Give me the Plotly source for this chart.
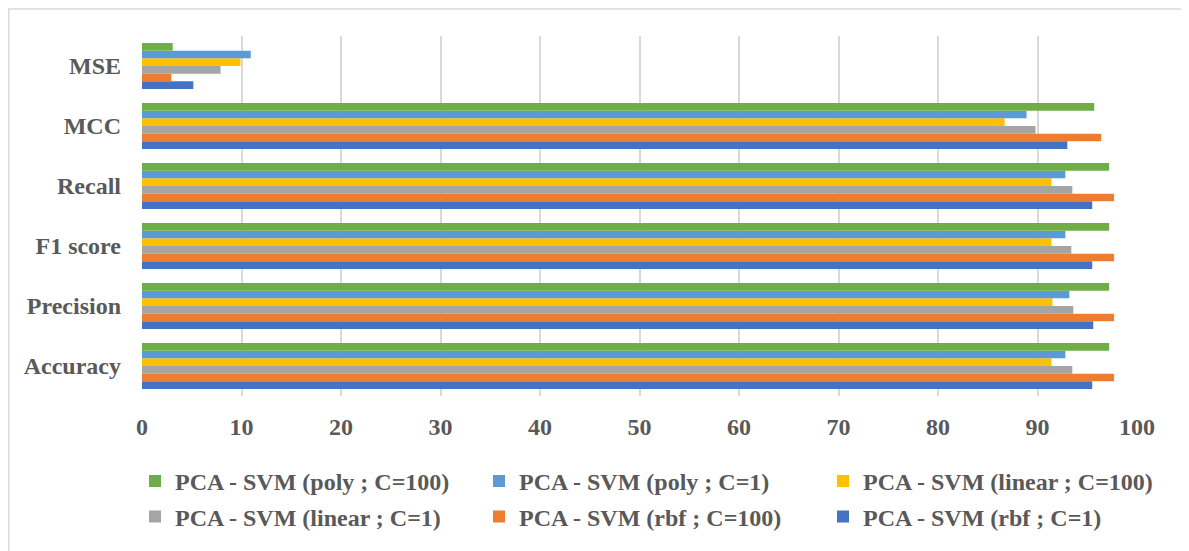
import plotly.graph_objects as go

categories = ["Accuracy", "Precision", "F1 score", "Recall", "MCC", "MSE"]

series_names = [
    "PCA - SVM (rbf ; C=1)",
    "PCA - SVM (rbf ; C=100)",
    "PCA - SVM (linear ; C=1)",
    "PCA - SVM (linear ; C=100)",
    "PCA - SVM (poly ; C=1)",
    "PCA - SVM (poly ; C=100)",
]

rbf_c1 = [95.5, 95.6, 95.5, 95.5, 93.0, 5.16]
rbf_c100 = [97.7, 97.7, 97.7, 97.7, 96.4, 2.95]
linear_c1 = [93.5, 93.6, 93.4, 93.5, 89.8, 7.9]
linear_c100 = [91.4, 91.5, 91.4, 91.4, 86.7, 9.9]
poly_c1 = [92.8, 93.2, 92.8, 92.8, 88.9, 10.93]
poly_c100 = [97.2, 97.2, 97.2, 97.2, 95.7, 3.09]

series_values = [rbf_c1, rbf_c100, linear_c1, linear_c100, poly_c1, poly_c100]
colors = ["#4472C4", "#ED7D31", "#A5A5A5", "#FFC000", "#5B9BD5", "#70AD47"]

x_ticks = [0, 10, 20, 30, 40, 50, 60, 70, 80, 90, 100]

FONT = "Liberation Serif"
TXT = "#595959"

# page body has an 8px margin: work in screen pixels and shift by OFF
OFF = 8
W, H = 1189 - OFF, 551 - OFF
L = 142 - OFF
T = 36 - OFF
R = W - (1137 - OFF)
B = H - (399 - OFF)
pw, ph = W - L - R, H - T - B


def px_x(x):
    return (x - OFF - L) / pw


def px_y(y):
    return (H - B - (y - OFF)) / ph


# legend slot (screen px of text start, row centre) for each series
legend_slots = {
    "PCA - SVM (poly ; C=100)": (176, 485),
    "PCA - SVM (poly ; C=1)": (520, 485),
    "PCA - SVM (linear ; C=100)": (864, 485),
    "PCA - SVM (linear ; C=1)": (176, 521),
    "PCA - SVM (rbf ; C=100)": (520, 521),
    "PCA - SVM (rbf ; C=1)": (864, 521),
}

fig = go.Figure()
legends = {}
for i, (name, vals, col) in enumerate(zip(series_names, series_values, colors)):
    lg = "legend" if i == 0 else f"legend{i + 1}"
    fig.add_trace(go.Bar(
        y=categories, x=vals, name=name, orientation="h",
        marker=dict(color=col, line=dict(width=0)),
        legend=lg,
    ))
    tx, ty = legend_slots[name]
    legends[lg] = dict(
        orientation="h", xanchor="left", yanchor="middle",
        x=px_x(tx - 41), y=px_y(ty),
        font=dict(family=FONT, size=24, color=TXT, weight="bold"),
        bgcolor="rgba(0,0,0,0)", itemwidth=30,
    )

fig.update_layout(
    width=W, height=H,
    margin=dict(l=L, r=R, t=T, b=B),
    paper_bgcolor="white", plot_bgcolor="white",
    barmode="group", bargap=0.235, bargroupgap=0,
    font=dict(family=FONT, size=24, color=TXT, weight="bold"),
    xaxis=dict(
        range=[0, 100], tickvals=x_ticks, showgrid=True,
        gridcolor="#D9D9D9", gridwidth=2, zeroline=False,
        showline=False, ticks="", ticklabelstandoff=14,
        tickfont=dict(family=FONT, size=24, color=TXT, weight="bold"),
    ),
    yaxis=dict(
        type="category", categoryorder="array", categoryarray=categories,
        showgrid=False, zeroline=False, showline=False, ticks="",
        ticklabelstandoff=20,
        tickfont=dict(family=FONT, size=24, color=TXT, weight="bold"),
    ),
    showlegend=True,
    shapes=[dict(
        type="rect", xref="paper", yref="paper",
        x0=px_x(OFF + 0.75), x1=px_x(1185), y0=px_y(570), y1=px_y(OFF + 0.75),
        line=dict(color="#D9D9D9", width=1.5), fillcolor="rgba(0,0,0,0)",
        layer="below",
    )],
    **legends,
)

fig.write_html("out.html")
